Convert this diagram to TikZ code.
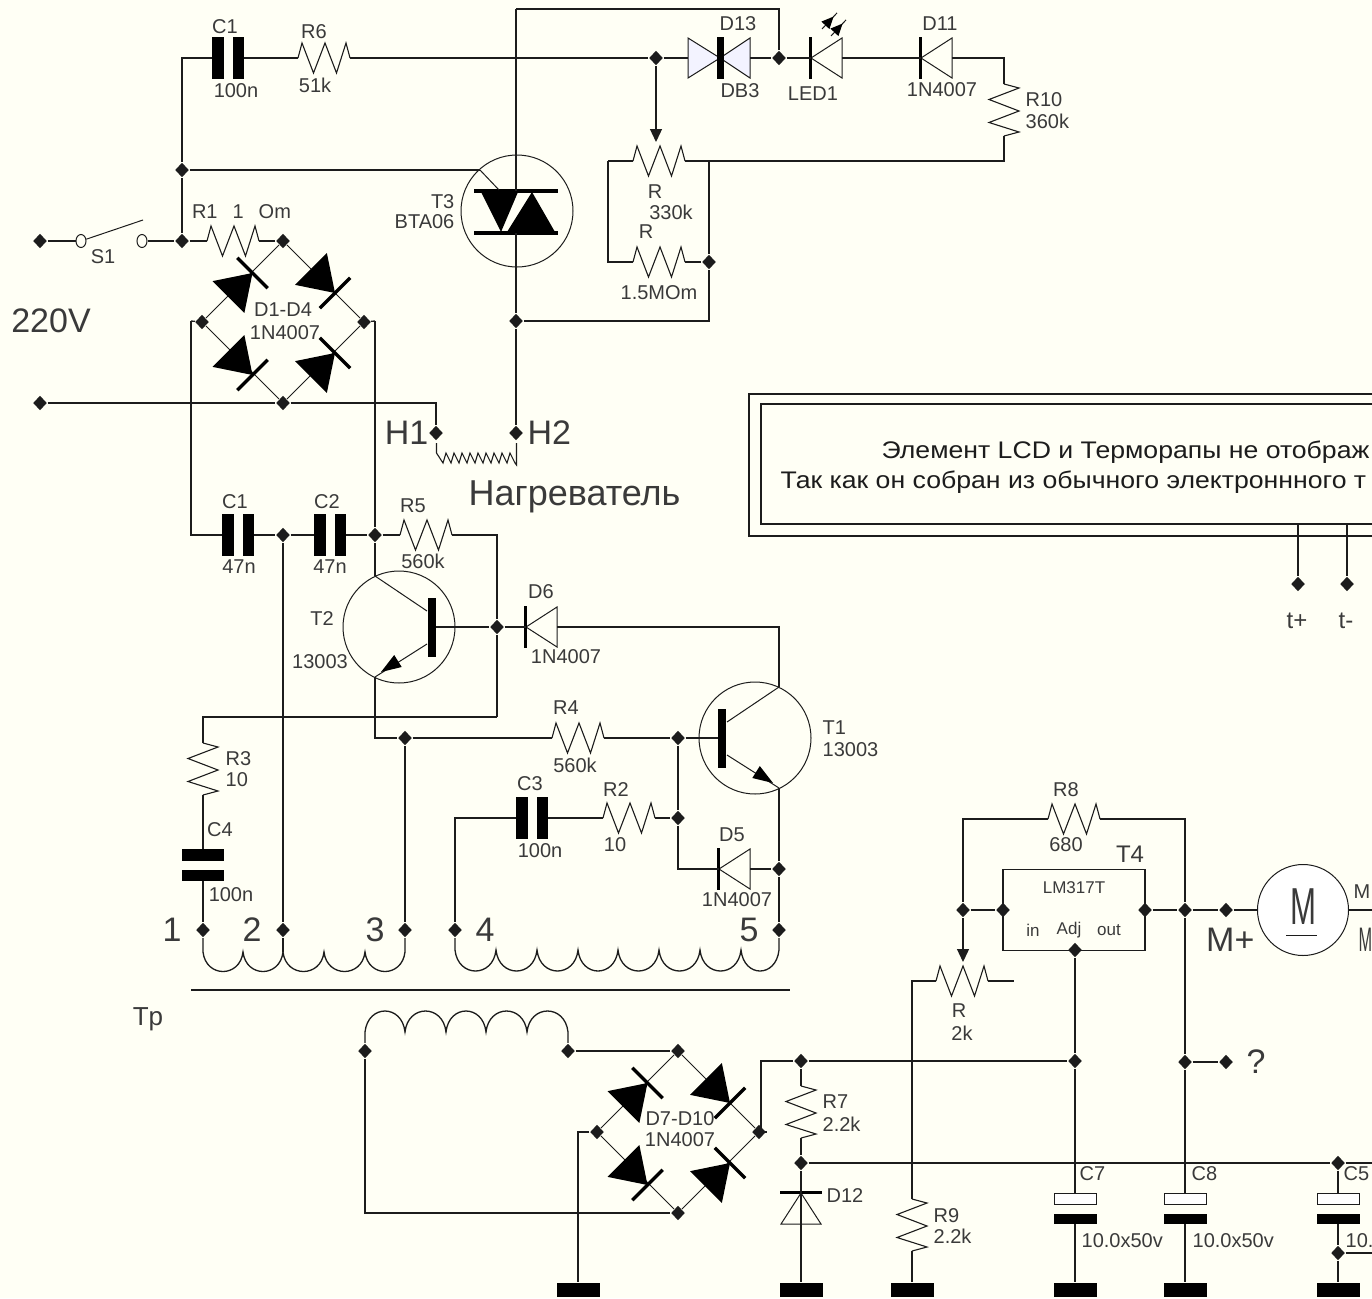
\documentclass[tikz,border=0pt]{standalone}
\usepackage{fontspec}
\setmainfont{Liberation Sans}
\usepackage{tikz}
\usetikzlibrary{arrows.meta,shapes.geometric}

\definecolor{paperc}{HTML}{FFFFF5}
\definecolor{wirec}{HTML}{1C1C1C}
\definecolor{textc}{HTML}{3A3A3A}
\definecolor{paled}{HTML}{F3F3FF}

\tikzset{
  jn/.style={diamond,fill=wirec,draw=none,inner sep=0pt,minimum width=14pt,minimum height=15pt},
  cont/.style={ellipse,draw=wirec,fill=paperc,inner sep=0pt,minimum width=10pt,minimum height=13pt,line width=1pt},
  gnd/.style={rectangle,fill=black,draw=none,inner sep=0pt,minimum width=43pt,minimum height=14pt},
  lbl/.style={inner sep=0pt,text=textc,font=\fontsize{20}{22}\selectfont},
  smalllbl/.style={inner sep=0pt,text=textc,font=\fontsize{17}{19}\selectfont},
  biglbl/.style={inner sep=0pt,text=textc,font=\fontsize{34}{36}\selectfont},
  boxlbl/.style={inner sep=0pt,text=wirec,font=\fontsize{24}{26}\selectfont},
  hv/.style={to path={-| (\tikztotarget) \tikztonodes}},
  vh/.style={to path={|- (\tikztotarget) \tikztonodes}},
  wiper/.style={-{Triangle[length=13pt,width=12pt]}},
  pics/res/.style={code={
    \draw[line width=1.1pt] (-26,0) -- (-22,-15) -- (-10.5,15) -- (1,-15) -- (12.5,15) -- (22,-15) -- (26,0);
    \coordinate (-a) at (-26,0);
    \coordinate (-b) at (26,0);
  }},
  pics/capa/.style={code={
    \fill[black] (-16,-21) rectangle (-4,21);
    \fill[black] (5,-21) rectangle (16,21);
    \coordinate (-a) at (-16,0);
    \coordinate (-b) at (16,0);
  }},
  pics/ecap/.style={code={
    \draw[fill=white,line width=1pt] (-21,0) rectangle (21,11);
    \fill[black] (-21.5,21) rectangle (21.5,31);
    \coordinate (-a) at (0,0);
    \coordinate (-b) at (0,31);
  }},
  pics/hdiode/.style={code={
    \draw[fill=paperc,line width=1pt] (0,0) -- (-31,-20) -- (-31,20) -- cycle;
    \fill[black] (-1,-21) rectangle (2.5,21);
    \coordinate (-a) at (-31,0);
    \coordinate (-k) at (0,0);
  }},
  pics/diac/.style={code={
    \draw[fill=paled,line width=1pt] (0,0) -- (-32,-20) -- (-32,20) -- cycle;
    \draw[fill=paled,line width=1pt] (0,0) -- (30,-20) -- (30,20) -- cycle;
    \fill[black] (-3.5,-21) rectangle (3.5,21);
    \coordinate (-a) at (-32,0);
    \coordinate (-b) at (30,0);
  }},
  pics/fdiode/.style={code={
    \fill[black] (0,0) -- (-34,-22.5) -- (-34,22.5) -- cycle;
    \fill[black] (-1.7,-21.5) rectangle (1.7,21.5);
  }},
  pics/ray/.style={code={
    \draw[line width=1pt] (0,0) -- (22,0);
    \fill[black] (17,0) -- (5,-5.5) -- (5,5.5) -- cycle;
  }},
  pics/bridge/.style={code={
    \node[jn] (-t) at (0,-81) {};
    \node[jn] (-l) at (-81,0) {};
    \node[jn] (-r) at (81,0)  {};
    \node[jn] (-b) at (0,81)  {};
    \draw[line width=1pt] (-t) -- (-l) -- (-b) -- (-r) -- (-t);
    \pic[rotate=45]  at (-30.5,-49) {fdiode};
    \pic[rotate=-45] at (52,-29)    {fdiode};
    \pic[rotate=-45] at (-30.5,53)  {fdiode};
    \pic[rotate=45]  at (52,31)     {fdiode};
  }},
  pics/npn/.style={code={
    \draw[line width=1pt] (0,0) circle [radius=56];
    \fill[black] (-37,-29.5) rectangle (-29,29.5);
    \draw[line width=1pt] (-28,-16) -- (24,-51);
    \draw[line width=1pt] (-28,17) -- (24,50);
    \fill[black] (18,45) -- (-2.7,40) -- (4.8,28) -- cycle;
    \coordinate (-b) at (-37,0);
    \coordinate (-c) at (24,-51);
    \coordinate (-e) at (24,50);
  }},
  pics/triac/.style={code={
    \draw[line width=1pt] (0,0) circle [radius=56];
    \fill[black] (-43,-22) rectangle (41,-18);
    \fill[black] (-43,20) rectangle (41,24);
    \fill[black] (-36,-19) -- (1,-19) -- (-16,21) -- cycle;
    \fill[black] (15,-19) -- (38,21) -- (-10,21) -- cycle;
    \draw[line width=1pt] (-37,-41) -- (-18,-21);
    \coordinate (-g) at (-37,-41);
    \coordinate (-t) at (-1,-20);
    \coordinate (-b) at (-1,22);
  }}
}

\begin{document}
\begin{tikzpicture}[x=1pt,y=-1pt,line width=1.3pt,color=wirec]
  \path[use as bounding box,clip] (0,0) rectangle (1372,1298);
  \fill[paperc] (0,0) rectangle (1372,1298);

  \node[jn] (jIn1)  at (40,241)   {};
  \node[jn] (jIn2)  at (40,403)   {};
  \node[jn] (jSw)   at (182,241)  {};
  \node[jn] (jGate) at (182,170)  {};
  \node[jn] (jTap)  at (656,58)   {};
  \node[jn] (jLed)  at (779,58)   {};
  \node[jn] (jPar)  at (709,262)  {};
  \node[jn] (jMt)   at (516,321)  {};
  \node[jn] (jH1)   at (436,433)  {};
  \node[jn] (jH2)   at (516,433)  {};
  \node[jn] (jCc)   at (283,535)  {};
  \node[jn] (jCol)  at (375,535)  {};
  \node[jn] (jBase) at (497,627)  {};
  \node[jn] (jEm)   at (405,738)  {};
  \node[jn] (jB1)   at (678,738)  {};
  \node[jn] (jR2)   at (678,818)  {};
  \node[jn] (jD5)   at (779,869)  {};
  \node[jn] (jW1)   at (203,930)  {};
  \node[jn] (jW2)   at (283,930)  {};
  \node[jn] (jW3)   at (405,930)  {};
  \node[jn] (jW4)   at (455,930)  {};
  \node[jn] (jW5)   at (779,930)  {};
  \node[jn] (jSec1) at (365,1051) {};
  \node[jn] (jSec2) at (568,1051) {};
  \node[jn] (jPlus) at (801,1061) {};
  \node[jn] (jZen)  at (801,1163) {};
  \node[jn] (jPot)  at (963,910)  {};
  \node[jn] (jIn)   at (1003,910) {};
  \node[jn] (jOut)  at (1145,910) {};
  \node[jn] (jReg)  at (1185,910) {};
  \node[jn] (jMp)   at (1226,910) {};
  \node[jn] (jAdj)  at (1075,950) {};
  \node[jn] (jLow)  at (1075,1061) {};
  \node[jn] (jQ)    at (1185,1062) {};
  \node[jn] (jQe)   at (1226,1062) {};
  \node[jn] (jC5)   at (1338,1163) {};
  \node[jn] (jC5b)  at (1338,1253) {};
  \node[jn] (jTp)   at (1298,584) {};
  \node[jn] (jTm)   at (1347,584) {};

  \node[cont] (S1a) at (81,241)  {};
  \node[cont] (S1b) at (142,241) {};

  \node[gnd] (gA) at (578,1290)  {};
  \node[gnd] (gB) at (801,1290)  {};
  \node[gnd] (gC) at (912,1290)  {};
  \node[gnd] (gD) at (1075,1290) {};
  \node[gnd] (gE) at (1185,1290) {};
  \node[gnd] (gF) at (1338,1290) {};

  \node[draw,rectangle,minimum width=651pt,minimum height=142pt,line width=1.5pt] (lcdOut) at (1074.5,465) {};
  \node[draw,rectangle,minimum width=639pt,minimum height=120pt,line width=1.5pt] (lcdIn)  at (1080.5,464) {};
  \node[draw,rectangle,minimum width=142pt,minimum height=81pt] (lm) at (1074,910) {};
  \node[draw,circle,fill=white,minimum size=91pt,inner sep=0pt,line width=1pt] (mot) at (1303,910) {};

  \pic (C1a)  at (228,58)   {capa};
  \pic (R6)   at (324,58)   {res};
  \pic (D13)  at (720,58)   {diac};
  \pic[rotate=180] (LED1) at (811,58) {hdiode};
  \pic[rotate=180] (D11)  at (921,58) {hdiode};
  \pic[rotate=-90] (R10)  at (1004,110) {res};
  \pic (Ra)   at (659,161)  {res};
  \pic (Rb)   at (659,262)  {res};
  \pic (R1)   at (233,241)  {res};
  \pic (T3)   at (517,211)  {triac};
  \pic (brA)  at (283,322)  {bridge};
  \pic (C1b)  at (238,535)  {capa};
  \pic (C2)   at (329.5,535) {capa};
  \pic (R5)   at (426,535)  {res};
  \pic[xscale=-1] (T2) at (399,627) {npn};
  \pic (T1)   at (755,738)  {npn};
  \pic[rotate=180] (D6) at (526,627) {hdiode};
  \pic[rotate=180] (D5) at (719,869) {hdiode};
  \pic (R4)   at (578,738)  {res};
  \pic (R2)   at (629,818)  {res};
  \pic (C3)   at (532,818)  {capa};
  \pic[rotate=-90] (R3) at (203,769) {res};
  \pic[rotate=-90] (C4) at (203,864.5) {capa};
  \pic (brB)  at (678,1132) {bridge};
  \pic[rotate=-90] (R7) at (801,1112) {res};
  \pic[rotate=90]  (D12) at (801,1193) {hdiode};
  \pic (R8)   at (1074,819) {res};
  \pic (Rp)   at (962,981)  {res};
  \pic[rotate=-90] (R9) at (912,1225) {res};
  \pic (C7)   at (1075,1193) {ecap};
  \pic (C8)   at (1185,1193) {ecap};
  \pic (C5)   at (1338,1193) {ecap};
  \pic[rotate=47] at (822,29) {ray};
  \pic[rotate=47] at (831,36) {ray};

  \coordinate (cBlade) at (143,220);
  \coordinate (cTop)   at (516,9);
  \coordinate (cWipA)  at (656,142);
  \coordinate (cLoop)  at (608,161);
  \coordinate (cPar)   at (709,161);
  \coordinate (cBrL)   at (191,321);
  \coordinate (cBrR)   at (375,321);
  \coordinate (cSnub)  at (497,717);
  \coordinate (cTap2)  at (283,952);
  \coordinate (cBrB)   at (761,1132);
  \coordinate (cPotE)  at (1014,981);
  \coordinate (cWipP)  at (963,962);
  \coordinate (cMotE)  at (1372,910);
  \coordinate (cBusE)  at (1372,1163);
  \coordinate (cC5E)   at (1372,1253);
  \coordinate (cMuA)   at (1286,935);
  \coordinate (cMuB)   at (1317,935);

  \path (jIn1)    edge            (S1a)
        (S1b)     edge            (jSw)
        (jSw)     edge            (jGate)
        (jGate)   edge [vh]       (C1a-a)
        (jSw)     edge            (R1-a)
        (R1-b)    edge            (brA-t)
        (jGate)   edge            (T3-g)
        (C1a-b)   edge            (R6-a)
        (R6-b)    edge            (jTap)
        (jTap)    edge            (D13-a)
        (D13-b)   edge            (jLed)
        (jLed)    edge            (LED1-k)
        (LED1-a)  edge            (D11-k)
        (D11-a)   edge [hv]       (R10-a)
        (R10-b)   edge [vh]       (Ra-b)
        (jLed)    edge [vh]       (cTop)
        (cTop)    edge            (T3-t)
        (Ra-a)    edge            (cLoop)
        (cLoop)   edge [vh]       (Rb-a)
        (Rb-b)    edge            (jPar)
        (jPar)    edge            (cPar)
        (jPar)    edge [vh]       (jMt)
        (T3-b)    edge            (jMt)
        (jMt)     edge            (jH2)
        (brA-l)   edge            (cBrL)
        (cBrL)    edge [vh]       (C1b-a)
        (brA-r)   edge            (cBrR)
        (cBrR)    edge            (jCol)
        (jIn2)    edge            (brA-b)
        (brA-b)   edge [hv]       (jH1)
        (C1b-b)   edge            (jCc)
        (jCc)     edge            (C2-a)
        (C2-b)    edge            (jCol)
        (jCol)    edge            (R5-a)
        (R5-b)    edge [hv]       (jBase)
        (jBase)   edge            (cSnub)
        (cSnub)   edge [hv]       (R3-a)
        (jCol)    edge            (T2-c)
        (T2-b)    edge            (jBase)
        (jBase)   edge            (D6-k)
        (D6-a)    edge [hv]       (T1-c)
        (T2-e)    edge [vh]       (jEm)
        (jEm)     edge            (R4-a)
        (R4-b)    edge            (jB1)
        (jB1)     edge            (T1-b)
        (jEm)     edge            (jW3)
        (jB1)     edge            (jR2)
        (jR2)     edge [vh]       (D5-k)
        (D5-a)    edge            (jD5)
        (T1-e)    edge            (jD5)
        (jD5)     edge            (jW5)
        (R2-b)    edge            (jR2)
        (C3-b)    edge            (R2-a)
        (C3-a)    edge [hv]       (jW4)
        (R3-b)    edge            (C4-a)
        (C4-b)    edge            (jW1)
        (jCc)     edge            (jW2)
        (jW2)     edge            (cTap2)
        (jSec2)   edge            (brB-t)
        (jSec1)   edge [vh]       (brB-b)
        (brB-l)   edge [hv]       (gA)
        (brB-r)   edge            (cBrB)
        (cBrB)    edge [vh]       (jPlus)
        (jPlus)   edge            (jLow)
        (jPlus)   edge            (R7-a)
        (R7-b)    edge            (jZen)
        (jZen)    edge            (gB)
        (jZen)    edge            (jC5)
        (jC5)     edge            (cBusE)
        (Rp-b)    edge            (cPotE)
        (Rp-a)    edge [hv]       (R9-a)
        (R9-b)    edge            (gC)
        (jPot)    edge [vh]       (R8-a)
        (R8-b)    edge [hv]       (jReg)
        (jPot)    edge            (jIn)
        (jOut)    edge            (jReg)
        (jReg)    edge            (jMp)
        (jMp)     edge            (mot)
        (mot)     edge            (cMotE)
        (jAdj)    edge            (jLow)
        (jLow)    edge            (C7-a)
        (C7-b)    edge            (gD)
        (jReg)    edge            (jQ)
        (jQ)      edge            (jQe)
        (jQ)      edge            (C8-a)
        (C8-b)    edge            (gE)
        (jC5)     edge            (C5-a)
        (C5-b)    edge            (jC5b)
        (jC5b)    edge            (gF)
        (jC5b)    edge            (cC5E)
        (jTp)     edge            (jTp |- lcdIn.south)
        (jTm)     edge            (jTm |- lcdIn.south)
  ;

  \draw[line width=1pt] (S1a) -- (cBlade);
  \draw[wiper] (jTap) -- (cWipA);
  \draw[wiper] (jPot) -- (cWipP);
  \draw[line width=1pt] (cMuA) -- (cMuB);

  \draw (jW1) -- (203,952)
        foreach \xa/\xb in {203/243,243/283,283/324,324/365,365/405} { .. controls (\xa+3,978) and (\xb-3,978) .. (\xb,952) }
        -- (jW3);
  \draw (jW4) -- (455,950)
        foreach \xa/\xb in {455/496,496/537,537/578,578/618,618/659,659/700,700/741,741/779} { .. controls (\xa+3,978) and (\xb-3,978) .. (\xb,950) }
        -- (jW5);
  \draw (jSec1) -- (365,1032)
        foreach \xa/\xb in {365/405,405/446,446/486,486/527,527/568} { .. controls (\xa+3,1004) and (\xb-3,1004) .. (\xb,1032) }
        -- (jSec2);
  \draw[line width=1.1pt] (436.5,443) -- (436.5,453) -- (443,463)
        foreach \xa in {443,451,459,467,475,483,491,499,507} { -- (\xa+3,453) -- (\xa+8,463) }
        -- (516.5,465) -- (516.5,443);
  \draw[line width=1.6pt] (191,990) -- (790,990);

  \node[biglbl] (t220)  at (51,321)   {220V};
  \node[biglbl,anchor=east] (tH1) at (429,433) {H1};
  \node[biglbl,anchor=west] (tH2) at (527,433) {H2};
  \node[biglbl,anchor=base west,font=\fontsize{36}{38}\selectfont] (tHeat) at (468,505) {Нагреватель};
  \node[biglbl] (tN1)   at (172,930)  {1};
  \node[biglbl] (tN2)   at (252,930)  {2};
  \node[biglbl] (tN3)   at (375,930)  {3};
  \node[biglbl] (tN4)   at (485,930)  {4};
  \node[biglbl] (tN5)   at (749,930)  {5};
  \node[biglbl,anchor=east] (tMp) at (1255,940) {M+};
  \node[biglbl,anchor=west] (tMm) at (1358,940) {\scalebox{0.48}[1]{M}};
  \node[biglbl] (tQ)    at (1256,1062) {?};

  \node[lbl] (tC1a)  at (225,27)   {C1};
  \node[lbl] (v100a) at (236,91)   {100n};
  \node[lbl] (tR6)   at (314,32)   {R6};
  \node[lbl] (v51k)  at (315,85)   {51k};
  \node[lbl] (tD13)  at (738,24)   {D13};
  \node[lbl] (tDB3)  at (740,91)   {DB3};
  \node[lbl] (tLED)  at (813,94)   {LED1};
  \node[lbl] (tD11)  at (940,24)   {D11};
  \node[lbl] (v4007a) at (942,90)  {1N4007};
  \node[lbl,anchor=west] (tR10) at (1025,100) {R10};
  \node[lbl,anchor=west] (v360) at (1025,121) {360k};
  \node[lbl] (tRa)   at (655,192)  {R};
  \node[lbl] (v330)  at (671,212)  {330k};
  \node[lbl] (tRb)   at (646,232)  {R};
  \node[lbl] (v15M)  at (659,293)  {1.5MOm};
  \node[lbl,anchor=east] (tT3)  at (455,202) {T3};
  \node[lbl,anchor=east] (vBTA) at (455,222) {BTA06};
  \node[lbl] (tS1)   at (103,257)  {S1};
  \node[lbl] (tR1)   at (241.5,212) {R1\hspace{15pt}1\hspace{15pt}Om};
  \node[lbl] (tD14)  at (283,310)  {D1-D4};
  \node[lbl] (v4007b) at (285,333) {1N4007};
  \node[lbl] (tC1b)  at (235,502)  {C1};
  \node[lbl] (v47a)  at (239,567)  {47n};
  \node[lbl] (tC2)   at (327,502)  {C2};
  \node[lbl] (v47b)  at (330,567)  {47n};
  \node[lbl] (tR5)   at (413,506)  {R5};
  \node[lbl] (v560a) at (423,561)  {560k};
  \node[lbl] (tT2)   at (322,619)  {T2};
  \node[lbl] (v13a)  at (320,662)  {13003};
  \node[lbl] (tD6)   at (541,592)  {D6};
  \node[lbl] (v4007c) at (566,657) {1N4007};
  \node[lbl,anchor=west] (tR3) at (225,759) {R3};
  \node[lbl,anchor=west] (v10a) at (225,780) {10};
  \node[lbl] (tC4)   at (220,830)  {C4};
  \node[lbl] (v100b) at (231,895)  {100n};
  \node[lbl] (tR4)   at (566,708)  {R4};
  \node[lbl] (v560b) at (575,765)  {560k};
  \node[lbl,anchor=west] (tT1) at (822,728) {T1};
  \node[lbl,anchor=west] (v13b) at (822,750) {13003};
  \node[lbl] (tC3)   at (530,784)  {C3};
  \node[lbl] (v100c) at (540,851)  {100n};
  \node[lbl] (tR2)   at (616,790)  {R2};
  \node[lbl] (v10b)  at (615,845)  {10};
  \node[lbl] (tD5)   at (732,835)  {D5};
  \node[lbl] (v4007d) at (737,900) {1N4007};
  \node[lbl,font=\fontsize{26}{28}\selectfont] (tTp) at (148,1019) {Tp};
  \node[lbl] (tD710) at (680,1119) {D7-D10};
  \node[lbl] (v4007e) at (680,1140) {1N4007};
  \node[lbl,anchor=west] (tR7) at (822,1102) {R7};
  \node[lbl,anchor=west] (v22a) at (822,1124) {2.2k};
  \node[lbl,anchor=west] (tD12) at (826,1195) {D12};
  \node[lbl] (tR8)   at (1066,790) {R8};
  \node[lbl] (v680)  at (1066,845) {680};
  \node[lbl,font=\fontsize{24}{26}\selectfont] (tT4) at (1130,854) {T4};
  \node[lbl] (tRp)   at (959,1011) {R};
  \node[lbl] (v2k)   at (962,1033) {2k};
  \node[lbl,anchor=west] (tR9) at (933,1216) {R9};
  \node[lbl,anchor=west] (v22b) at (933,1236) {2.2k};
  \node[lbl,anchor=west] (tC7) at (1079,1174) {C7};
  \node[lbl,anchor=west] (tC8) at (1191,1174) {C8};
  \node[lbl,anchor=west] (tC5) at (1343,1174) {C5};
  \node[lbl,anchor=west] (vC7) at (1081,1241) {10.0x50v};
  \node[lbl,anchor=west] (vC8) at (1192,1241) {10.0x50v};
  \node[lbl,anchor=west] (vC5) at (1345,1241) {10.};
  \node[lbl,anchor=west] (tMs) at (1353,892) {M};
  \node[lbl,font=\fontsize{24}{26}\selectfont] (tTplus) at (1297,621) {t+};
  \node[lbl,font=\fontsize{24}{26}\selectfont] (tTmin)  at (1346,621) {t-};
  \node[smalllbl] (tLM)  at (1074,888) {LM317T};
  \node[smalllbl] (tin)  at (1033,930) {in};
  \node[smalllbl] (tadj) at (1069,930) {Adj};
  \node[smalllbl] (tout) at (1109,930) {out};
  \node[lbl] (tMot) at (1303,907) {\scalebox{0.6}[1]{\fontsize{52}{54}\selectfont M}};
  \node[boxlbl,anchor=base west] (tLine1) at (881,458) {\scalebox{1.11}[1]{Элемент LCD и Терморапы не отображ}};
  \node[boxlbl,anchor=base west] (tLine2) at (780,488) {\scalebox{1.11}[1]{Так как он собран из обычного электроннного т}};
\end{tikzpicture}
\end{document}
